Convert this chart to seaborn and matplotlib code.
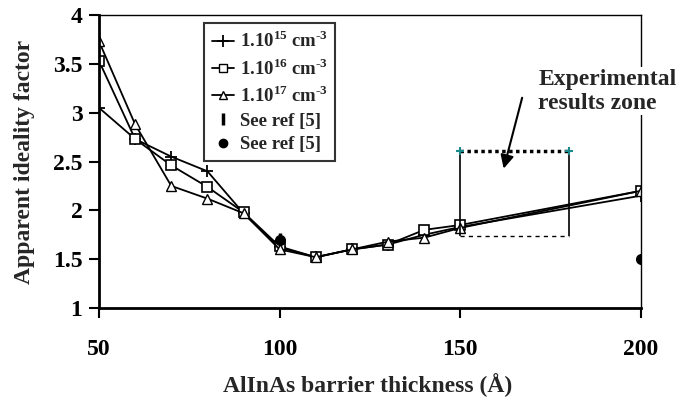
import numpy as np
import pandas as pd
import matplotlib
matplotlib.use('Agg')
import matplotlib.pyplot as plt
import seaborn as sns
from matplotlib.lines import Line2D

# Data
thickness = [50, 60, 70, 80, 90, 100, 110, 120, 130, 140, 150, 200]
n_1e15 = [3.05, 2.73, 2.55, 2.40, 1.97, 1.62, 1.52, 1.60, 1.65, 1.75, 1.83, 2.15]
n_1e16 = [3.53, 2.73, 2.46, 2.24, 1.98, 1.63, 1.52, 1.60, 1.65, 1.80, 1.85, 2.20]
n_1e17 = [3.73, 2.88, 2.25, 2.12, 1.97, 1.60, 1.52, 1.60, 1.68, 1.72, 1.82, 2.20]

ref_bar_x = [100]
ref_bar_y = [1.71]
ref_dot_x = [100, 200]
ref_dot_y = [1.70, 1.50]

# experimental results zone
zone_x = [150, 180]
zone_top = 2.61
zone_bottom = 1.74

labels = [r'1.10$^{\mathregular{15}}$ cm$^{\mathregular{‐3}}$',
          r'1.10$^{\mathregular{16}}$ cm$^{\mathregular{‐3}}$',
          r'1.10$^{\mathregular{17}}$ cm$^{\mathregular{‐3}}$',
          'See ref [5]', 'See ref [5]']

sns.set_theme(style='white')
plt.rcParams['font.family'] = ['Liberation Serif', 'DejaVu Serif']
plt.rcParams['font.weight'] = 'bold'
plt.rcParams['axes.labelweight'] = 'bold'
plt.rcParams['axes.unicode_minus'] = False

df = pd.DataFrame({'x': thickness, 'n15': n_1e15, 'n16': n_1e16, 'n17': n_1e17})

fig = plt.figure(figsize=(6.81, 4.01), dpi=100)
ax = fig.add_axes([99 / 681, 1 - 308 / 401, 542 / 681, 293 / 401])

sns.lineplot(data=df, x='x', y='n15', ax=ax, color='black', lw=1.3,
             marker='+', markersize=8, markeredgewidth=1.3, markeredgecolor='black')
sns.lineplot(data=df, x='x', y='n16', ax=ax, color='black', lw=1.3,
             marker='s', markersize=7, markerfacecolor='white', markeredgecolor='black',
             markeredgewidth=1.2)
sns.lineplot(data=df, x='x', y='n17', ax=ax, color='black', lw=1.3,
             marker='^', markersize=7, markerfacecolor='white', markeredgecolor='black',
             markeredgewidth=1.0)
ax.plot(ref_bar_x, ref_bar_y, ls='none', marker='|', markersize=9, mew=2.5, color='black')
ax.plot(ref_dot_x, ref_dot_y, ls='none', marker='o', markersize=7, color='black')

# zone box
ax.vlines(zone_x, zone_bottom, zone_top, color='black', lw=1.2)
ax.plot(zone_x, [zone_top, zone_top], color='black', lw=2.5, ls=(0, (1, 1)))
ax.plot(zone_x, [zone_bottom, zone_bottom], color='black', lw=1.0, ls=(0, (3, 3)))
ax.plot(zone_x, [zone_top, zone_top], ls='none', marker='+', color='#1a8a8a',
        markersize=6, mew=1.5)

ax.annotate('', xy=(161.8, 2.40), xytext=(167.3, 3.18),
            arrowprops=dict(arrowstyle='-|>', color='black', lw=1.5, mutation_scale=20))
ax.text(171.6, 3.22, 'Experimental\nresults zone', ha='left', va='center',
        fontsize=17, fontweight='bold', linespacing=1.2, clip_on=False, zorder=5,
        bbox=dict(facecolor='white', edgecolor='none', pad=1))

ax.set_xlim(50, 200)
ax.set_ylim(1, 4)
ax.set_xticks([50, 100, 150, 200])
ax.set_yticks([1, 1.5, 2, 2.5, 3, 3.5, 4])
ax.set_yticklabels(['1', '1.5', '2', '2.5', '3', '3.5', '4'])
ax.tick_params(axis='both', labelsize=17, direction='out', length=7, width=1.5,
               colors='black', left=True, bottom=True)
ax.tick_params(axis='x', pad=15)
ax.tick_params(axis='y', pad=5)

for side in ['left', 'bottom']:
    ax.spines[side].set_linewidth(2.0)
for side in ['top', 'right']:
    ax.spines[side].set_linewidth(1.0)
for s in ax.spines.values():
    s.set_color('black')

ax.set_xlabel('AlInAs barrier thickness (Å)', fontsize=17, fontweight='bold')
ax.set_ylabel('Apparent ideality factor', fontsize=17, fontweight='bold')
ax.xaxis.set_label_coords(0.495, -0.222)
ax.yaxis.set_label_coords(-0.118, 0.5)

handles = [
    Line2D([], [], color='black', lw=1.3, marker='+', markersize=9, mew=1.3),
    Line2D([], [], color='black', lw=1.3, marker='s', markersize=6, mfc='white', mec='black'),
    Line2D([], [], color='black', lw=1.3, marker='^', markersize=6, mfc='white', mec='black'),
    Line2D([], [], ls='none', marker='|', markersize=8, mew=2.5, color='black'),
    Line2D([], [], ls='none', marker='o', markersize=6, color='black'),
]
leg = ax.legend(handles, labels, loc='upper left', bbox_to_anchor=((204 - 99) / 542, 1 - 8 / 293),
                prop={'weight': 'bold', 'size': 13.5}, frameon=True, fancybox=False,
                edgecolor='black', handlelength=1.2, handletextpad=0.3, labelspacing=0.35,
                borderpad=0.4, borderaxespad=0)
leg.get_frame().set_linewidth(1.5)

fig.savefig('out.png', dpi=100)
